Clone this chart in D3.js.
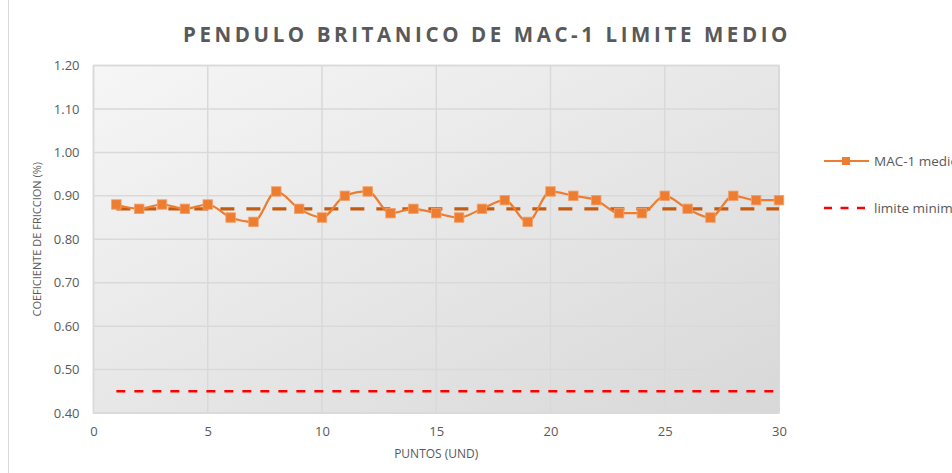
<!DOCTYPE html>
<html>
<head>
<meta charset="utf-8">
<script src="https://cdn.jsdelivr.net/npm/d3@7/dist/d3.min.js"></script>
<style>
  html, body { margin: 0; padding: 0; background: #ffffff; overflow: hidden; }
  svg { display: block; font-family: "Open Sans", "Liberation Sans", sans-serif; }
</style>
</head>
<body>
<svg id="chart" width="952" height="473"></svg>
<script>
// Friction coefficient readings per point (British pendulum)
const puntos = d3.range(1, 31);
const mac1Medio = [0.88, 0.87, 0.88, 0.87, 0.88, 0.85, 0.84, 0.91, 0.87, 0.85,
                   0.90, 0.91, 0.86, 0.87, 0.86, 0.85, 0.87, 0.89, 0.84, 0.91,
                   0.90, 0.89, 0.86, 0.86, 0.90, 0.87, 0.85, 0.90, 0.89, 0.89];
const promedio = 0.87;
const limiteMinimo = 0.45;
const yTicks = [0.40, 0.50, 0.60, 0.70, 0.80, 0.90, 1.00, 1.10, 1.20];
const xTicks = [0, 5, 10, 15, 20, 25, 30];

const svg = d3.select("#chart");
const W = 952, H = 473;
const plot = { left: 93.5, right: 779, top: 65.5, bottom: 413 };

const x = d3.scaleLinear().domain([0, 30]).range([plot.left, plot.right]);
const y = d3.scaleLinear().domain([0.40, 1.20]).range([plot.bottom, plot.top]);

// Chart frame (left edge visible)
svg.append("rect")
  .attr("x", 8.5).attr("y", -10).attr("width", W + 20).attr("height", H + 30)
  .attr("fill", "#ffffff").attr("stroke", "#d9d9d9").attr("stroke-width", 1);

// Plot background gradient
const defs = svg.append("defs");
const grad = defs.append("linearGradient").attr("id", "bg")
  .attr("x1", "0%").attr("y1", "0%").attr("x2", "100%").attr("y2", "100%");
grad.append("stop").attr("offset", "0%").attr("stop-color", "#f6f6f6");
grad.append("stop").attr("offset", "100%").attr("stop-color", "#d8d8d8");

svg.append("rect")
  .attr("x", plot.left).attr("y", plot.top)
  .attr("width", plot.right - plot.left).attr("height", plot.bottom - plot.top)
  .attr("fill", "url(#bg)").attr("stroke", "#d9d9d9").attr("stroke-width", 1.5);

// Gridlines
svg.append("g").selectAll("line.h").data(yTicks).join("line")
  .attr("x1", plot.left).attr("x2", plot.right)
  .attr("y1", d => y(d)).attr("y2", d => y(d))
  .attr("stroke", "#d9d9d9").attr("stroke-width", 1.5);
svg.append("g").selectAll("line.v").data(xTicks).join("line")
  .attr("y1", plot.top).attr("y2", plot.bottom)
  .attr("x1", d => x(d)).attr("x2", d => x(d))
  .attr("stroke", "#d9d9d9").attr("stroke-width", 1.5);

// Axes (labels only)
const yAxis = svg.append("g").attr("transform", `translate(${plot.left - 14},0)`)
  .call(d3.axisLeft(y).tickValues(yTicks).tickFormat(d3.format(".2f")).tickSize(0).tickPadding(0));
const xAxis = svg.append("g").attr("transform", `translate(0,${plot.bottom + 10})`)
  .call(d3.axisBottom(x).tickValues(xTicks).tickFormat(d3.format("d")).tickSize(0).tickPadding(4));
[yAxis, xAxis].forEach(g => {
  g.select(".domain").remove();
  g.selectAll("text").attr("fill", "#595959").style("font-size", "13px")
    .style("font-family", "'Open Sans', sans-serif");
});

// Axis titles
svg.append("text")
  .attr("transform", `translate(41,${(plot.top + plot.bottom) / 2}) rotate(-90)`)
  .attr("text-anchor", "middle").attr("fill", "#595959")
  .style("font-size", "11px").text("COEFICIENTE DE FRICCION (%)");
svg.append("text")
  .attr("x", (plot.left + plot.right) / 2).attr("y", 458)
  .attr("text-anchor", "middle").attr("fill", "#595959")
  .style("font-size", "12px").text("PUNTOS (UND)");

// Title
svg.append("text")
  .attr("x", 487).attr("y", 42)
  .attr("text-anchor", "middle").attr("fill", "#595959")
  .style("font-size", "20.5px").style("font-weight", "bold").style("letter-spacing", "3.6px")
  .text("PENDULO BRITANICO DE MAC-1 LIMITE MEDIO");

// Minimum limit (red dashed)
svg.append("line")
  .attr("x1", x(1)).attr("x2", x(30))
  .attr("y1", y(limiteMinimo)).attr("y2", y(limiteMinimo))
  .attr("stroke", "#ff0000").attr("stroke-width", 2.5).attr("stroke-dasharray", "9,9");

// Average (dark orange dashed)
svg.append("line")
  .attr("x1", x(1)).attr("x2", x(30))
  .attr("y1", y(promedio)).attr("y2", y(promedio))
  .attr("stroke", "#c55a11").attr("stroke-width", 3.2).attr("stroke-dasharray", "14,12");

// MAC-1 series line and markers
const serie = puntos.map((p, i) => ({ p, v: mac1Medio[i] }));
svg.append("path").datum(serie)
  .attr("fill", "none").attr("stroke", "#ed7d31").attr("stroke-width", 2.2)
  .attr("d", d3.line().x(d => x(d.p)).y(d => y(d.v)).curve(d3.curveMonotoneX));
svg.append("g").selectAll("rect").data(serie).join("rect")
  .attr("x", d => x(d.p) - 4.75).attr("y", d => y(d.v) - 4.75)
  .attr("width", 9.5).attr("height", 9.5)
  .attr("fill", "#ed7d31").attr("stroke", "#f4a06a").attr("stroke-width", 0.8);

// Legend
const lg = svg.append("g");
lg.append("line").attr("x1", 824).attr("x2", 869).attr("y1", 161).attr("y2", 161)
  .attr("stroke", "#ed7d31").attr("stroke-width", 2.2);
lg.append("rect").attr("x", 842).attr("y", 157).attr("width", 8).attr("height", 8)
  .attr("fill", "#ed7d31");
lg.append("text").attr("x", 874).attr("y", 165.5).attr("fill", "#595959")
  .style("font-size", "13.5px").text("MAC-1 medio");
lg.append("line").attr("x1", 824).attr("x2", 869).attr("y1", 208).attr("y2", 208)
  .attr("stroke", "#ff0000").attr("stroke-width", 2.5).attr("stroke-dasharray", "8,8.5");
lg.append("text").attr("x", 874).attr("y", 212.5).attr("fill", "#595959")
  .style("font-size", "13.5px").text("limite minimo");
</script>
</body>
</html>
